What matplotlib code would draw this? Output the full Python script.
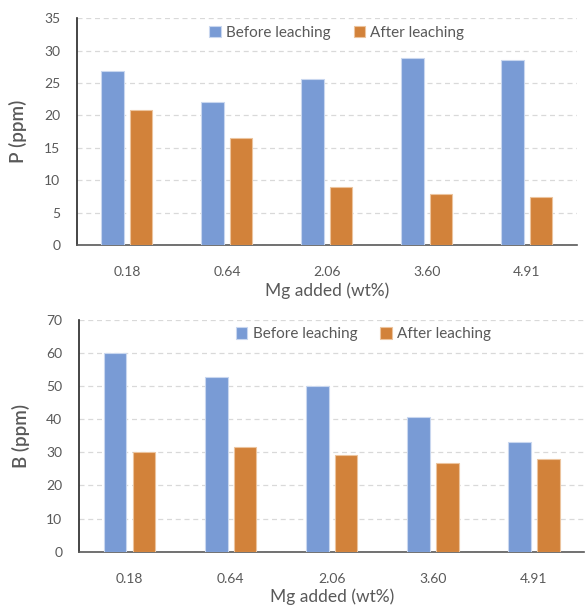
import matplotlib.pyplot as plt
import numpy as np

mg_added = ["0.18", "0.64", "2.06", "3.60", "4.91"]
p_before = [26.8, 22.0, 25.6, 28.8, 28.5]
p_after = [20.8, 16.5, 8.9, 7.9, 7.4]
b_before = [60.1, 52.7, 50.2, 40.8, 33.2]
b_after = [30.2, 31.5, 29.3, 26.9, 27.9]

BLUE = "#799bd5"
ORANGE = "#d2823a"
TEXT = "#595959"

plt.rcParams["font.family"] = ["Lato", "DejaVu Sans"]

fig = plt.figure(figsize=(5.85, 6.08), dpi=100)
ax_p = fig.add_axes([0.1316, 0.597, 0.8547, 0.373])
ax_b = fig.add_axes([0.135, 0.0926, 0.864, 0.3811])


def draw_panel(ax, before, after, ymax, step, ylabel, legend_x):
    x = np.arange(len(mg_added))
    w = 0.225
    off = 0.1425
    ax.bar(x - off, before, width=w, color=BLUE, edgecolor="#c9d7ef",
           linewidth=0.8, label="Before leaching", zorder=3)
    ax.bar(x + off, after, width=w, color=ORANGE, edgecolor="#ecc49e",
           linewidth=0.8, label="After leaching", zorder=3)
    ax.set_xlim(-0.5, len(mg_added) - 0.5)
    ax.set_ylim(0, ymax)
    ax.set_yticks(np.arange(0, ymax + 1, step))
    ax.set_xticks(x)
    ax.set_xticklabels(mg_added)
    ax.yaxis.grid(True, color="#d9d9d9", linestyle=(0, (4, 3)), linewidth=0.9, zorder=0)
    ax.set_axisbelow(True)
    for s in ("top", "right"):
        ax.spines[s].set_visible(False)
    ax.spines["left"].set_color("#262626")
    ax.spines["left"].set_linewidth(1.2)
    ax.spines["bottom"].set_color("#595959")
    ax.spines["bottom"].set_linewidth(1.2)
    ax.tick_params(length=0, labelsize=10, labelcolor=TEXT)
    ax.tick_params(axis="x", pad=15)
    ax.tick_params(axis="y", pad=12)
    ax.set_xlabel("Mg added (wt%)", fontsize=12.5, color=TEXT, labelpad=3)
    ax.set_ylabel(ylabel, fontsize=13.5, color=TEXT, fontweight="semibold", labelpad=12)
    ax.legend(loc="upper left", bbox_to_anchor=(legend_x, 1.028), ncol=2,
              frameon=False, fontsize=11, labelcolor=TEXT,
              handlelength=0.75, handleheight=0.75, handletextpad=0.35,
              columnspacing=1.5)


draw_panel(ax_p, p_before, p_after, 35, 5, "P (ppm)", 0.237)
draw_panel(ax_b, b_before, b_after, 70, 10, "B (ppm)", 0.283)

fig.savefig("out.png", dpi=100)
